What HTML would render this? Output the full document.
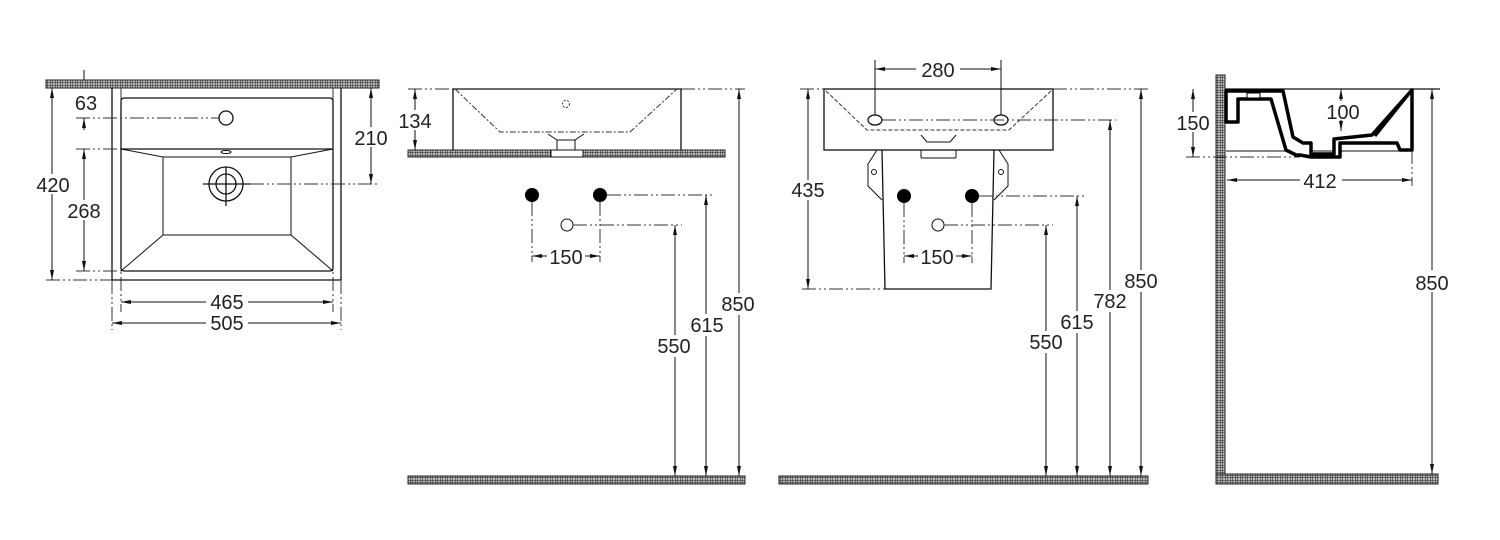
<!DOCTYPE html>
<html><head><meta charset="utf-8"><style>
html,body{margin:0;padding:0;background:#fff}
svg{display:block}
text{font-family:"Liberation Sans",sans-serif;font-size:20px;fill:#222;text-anchor:middle}
.s{stroke:#111;stroke-width:1.3;fill:none}
.t{stroke:#111;stroke-width:1;fill:none}
.c{stroke:#333;stroke-width:1;fill:none;stroke-dasharray:14 3 2 3 2 3}
.d{stroke:#111;stroke-width:1;fill:none}
.w{fill:#fff;stroke:none}
.h{fill:url(#hatch);stroke:#222;stroke-width:1}
</style></head><body>
<svg width="1500" height="540" viewBox="0 0 1500 540" xmlns="http://www.w3.org/2000/svg">
<defs>
<pattern id="hatch" width="2.5" height="2.5" patternUnits="userSpaceOnUse">
<rect width="2.5" height="2.5" fill="#bbb"/>
<path d="M0 0H2.5M0 0V2.5" stroke="#222" stroke-width="1"/>
</pattern>
<marker id="a" viewBox="0 0 10 4" refX="10" refY="2" markerWidth="10" markerHeight="4" markerUnits="userSpaceOnUse" orient="auto-start-reverse">
<path d="M0 0L10 2L0 4Z" fill="#111"/>
</marker>
</defs>

<!-- ===== VIEW 1 : top ===== -->
<rect class="h" x="46" y="80" width="333" height="8"/>
<line class="d" x1="84" y1="70" x2="84" y2="80"/>
<line class="s" x1="112" y1="88" x2="112" y2="280"/>
<line class="s" x1="341" y1="88" x2="341" y2="280"/>
<line class="s" x1="112" y1="280" x2="341" y2="280"/>
<line class="c" x1="112" y1="280" x2="112" y2="330"/>
<line class="c" x1="341" y1="280" x2="341" y2="330"/>
<line class="c" x1="121" y1="88" x2="121" y2="312"/>
<line class="c" x1="333" y1="88" x2="333" y2="312"/>
<rect class="s" x="121" y="98" width="212" height="173" rx="3"/>
<line class="s" x1="121" y1="149" x2="333" y2="149"/>
<path class="t" d="M121 149L163 157H291L333 149M163 157V235H291V157M163 235L121 271M291 235L333 271"/>
<ellipse class="t" cx="226" cy="152" rx="5" ry="1.5"/>
<circle class="s" cx="226" cy="118" r="7"/>
<circle class="s" cx="226" cy="184" r="17"/>
<circle class="s" cx="226" cy="184" r="10"/>
<line class="s" x1="226" y1="167" x2="226" y2="206"/>
<line class="s" x1="203" y1="184" x2="250" y2="184"/>
<line class="c" x1="76" y1="118" x2="220" y2="118"/>
<line class="c" x1="250" y1="184" x2="378" y2="184"/>
<line class="c" x1="76" y1="149" x2="121" y2="149"/>
<line class="c" x1="76" y1="271" x2="121" y2="271"/>
<line class="c" x1="46" y1="280" x2="112" y2="280"/>
<line class="d" x1="52" y1="88" x2="52" y2="280" marker-start="url(#a)" marker-end="url(#a)"/>
<rect class="w" x="34" y="174" width="38" height="20"/><text x="53" y="192">420</text>
<line class="d" x1="84" y1="149" x2="84" y2="271" marker-start="url(#a)" marker-end="url(#a)"/>
<rect class="w" x="64" y="200" width="40" height="20"/><text x="84" y="218">268</text>
<line class="d" x1="84" y1="118" x2="84" y2="130" marker-start="url(#a)"/>
<text x="86" y="110">63</text>
<line class="d" x1="371" y1="88" x2="371" y2="184" marker-start="url(#a)" marker-end="url(#a)"/>
<rect class="w" x="352" y="127" width="40" height="20"/><text x="371" y="145">210</text>
<line class="d" x1="121" y1="302" x2="333" y2="302" marker-start="url(#a)" marker-end="url(#a)"/>
<rect class="w" x="206" y="292" width="42" height="20"/><text x="227" y="309">465</text>
<line class="d" x1="112" y1="323" x2="341" y2="323" marker-start="url(#a)" marker-end="url(#a)"/>
<rect class="w" x="206" y="313" width="42" height="20"/><text x="227" y="330">505</text>

<!-- ===== VIEW 2 : side ===== -->
<line class="c" x1="408" y1="89" x2="453" y2="89"/>
<line class="c" x1="681" y1="89" x2="745" y2="89"/>
<path class="s" d="M453 150V89H681V150"/>
<path class="c" d="M455 89L500 132H630L677 89" style="stroke-dasharray:6 2 2 2"/>
<path class="t" d="M548 134L557 140H575L584 134M557 140V150M575 140V150"/>
<circle class="c" cx="566" cy="104" r="3.5" style="stroke-dasharray:2 1.5"/>
<rect class="h" x="408" y="150" width="143" height="7"/>
<rect class="h" x="583" y="150" width="142" height="7"/>
<rect class="t" x="551" y="150" width="32" height="7"/>
<line class="d" x1="415" y1="89" x2="415" y2="150" marker-start="url(#a)" marker-end="url(#a)"/>
<rect class="w" x="398" y="110" width="36" height="20"/><text x="415" y="128">134</text>
<circle cx="532" cy="195" r="7" fill="#000"/>
<circle cx="600" cy="195" r="7" fill="#000"/>
<circle class="t" cx="567" cy="225" r="6"/>
<line class="c" x1="607" y1="195" x2="714" y2="195"/>
<line class="c" x1="573" y1="225" x2="682" y2="225"/>
<line class="c" x1="532" y1="202" x2="532" y2="262"/>
<line class="c" x1="600" y1="202" x2="600" y2="262"/>
<line class="d" x1="532" y1="256" x2="600" y2="256" marker-start="url(#a)" marker-end="url(#a)"/>
<rect class="w" x="547" y="246" width="38" height="20"/><text x="566" y="264">150</text>
<line class="d" x1="739" y1="89" x2="739" y2="476" marker-start="url(#a)" marker-end="url(#a)"/>
<line class="d" x1="706" y1="195" x2="706" y2="476" marker-start="url(#a)" marker-end="url(#a)"/>
<line class="d" x1="675" y1="225" x2="675" y2="476" marker-start="url(#a)" marker-end="url(#a)"/>
<rect class="w" x="718" y="293" width="40" height="22"/><text x="738" y="311">850</text>
<rect class="w" x="687" y="314" width="40" height="22"/><text x="707" y="332">615</text>
<rect class="w" x="654" y="335" width="40" height="22"/><text x="674" y="353">550</text>
<rect class="h" x="408" y="476" width="337" height="8"/>

<!-- ===== VIEW 3 : front ===== -->
<line class="c" x1="800" y1="89" x2="824" y2="89"/>
<line class="c" x1="1053" y1="89" x2="1148" y2="89"/>
<rect class="s" x="824" y="89" width="229" height="61"/>
<path class="c" d="M826 91L867 130H1009L1051 91" style="stroke-dasharray:4 2"/>
<path class="t" d="M921 135L927 142H950L956 135"/>
<ellipse class="s" cx="875" cy="120" rx="7" ry="5"/>
<ellipse class="s" cx="1001" cy="120" rx="7" ry="5"/>
<line class="c" x1="882" y1="120" x2="1116" y2="120"/>
<line class="d" x1="875" y1="60" x2="875" y2="115"/>
<line class="d" x1="1001" y1="60" x2="1001" y2="115"/>
<line class="d" x1="875" y1="69" x2="1001" y2="69" marker-start="url(#a)" marker-end="url(#a)"/>
<rect class="w" x="916" y="59" width="44" height="20"/><text x="938" y="77">280</text>
<path class="t" d="M921 150V157Q921 158 922 158H955Q956 158 956 157V150"/>
<path class="s" d="M882 150L885 289H991L994 150"/>
<path class="t" d="M877 150L868 164V186L882 200M999 150L1008 164V186L994 200"/>
<circle class="t" cx="874" cy="172" r="2.5"/>
<circle class="t" cx="1001" cy="172" r="2.5"/>
<line class="c" x1="802" y1="289" x2="885" y2="289"/>
<line class="d" x1="808" y1="89" x2="808" y2="289" marker-start="url(#a)" marker-end="url(#a)"/>
<rect class="w" x="788" y="180" width="40" height="20"/><text x="808" y="197">435</text>
<circle cx="904" cy="196" r="7" fill="#000"/>
<circle cx="972" cy="196" r="7" fill="#000"/>
<circle class="t" cx="938" cy="225" r="6"/>
<line class="c" x1="979" y1="196" x2="1085" y2="196"/>
<line class="c" x1="944" y1="225" x2="1053" y2="225"/>
<line class="c" x1="904" y1="203" x2="904" y2="263"/>
<line class="c" x1="972" y1="203" x2="972" y2="263"/>
<line class="d" x1="904" y1="256" x2="972" y2="256" marker-start="url(#a)" marker-end="url(#a)"/>
<rect class="w" x="918" y="246" width="38" height="20"/><text x="937" y="264">150</text>
<line class="d" x1="1141" y1="89" x2="1141" y2="476" marker-start="url(#a)" marker-end="url(#a)"/>
<line class="d" x1="1110" y1="120" x2="1110" y2="476" marker-start="url(#a)" marker-end="url(#a)"/>
<line class="d" x1="1077" y1="196" x2="1077" y2="476" marker-start="url(#a)" marker-end="url(#a)"/>
<line class="d" x1="1046" y1="225" x2="1046" y2="476" marker-start="url(#a)" marker-end="url(#a)"/>
<rect class="w" x="1121" y="270" width="40" height="22"/><text x="1141" y="288">850</text>
<rect class="w" x="1090" y="290" width="40" height="22"/><text x="1110" y="308">782</text>
<rect class="w" x="1057" y="311" width="40" height="22"/><text x="1077" y="329">615</text>
<rect class="w" x="1026" y="331" width="40" height="22"/><text x="1046" y="349">550</text>
<rect class="h" x="779" y="476" width="369" height="8"/>

<!-- ===== VIEW 4 : section ===== -->
<rect class="h" x="1216" y="75" width="9" height="409"/>
<rect class="h" x="1216" y="474" width="222" height="10"/>
<line class="s" x1="1225" y1="89" x2="1440" y2="89"/>
<line class="c" x1="1186" y1="157" x2="1300" y2="157"/>
<line class="c" x1="1412" y1="150" x2="1412" y2="186"/>
<line class="t" x1="1226" y1="151" x2="1412" y2="151"/>
<path d="M1226 91H1283L1293 137L1303 143H1311V154H1334V139L1372 135L1412 90V150H1400L1397 143H1372L1340 143V157H1311L1300 155H1296L1286 150L1271 99H1238V122H1226Z" fill="#fff" stroke="#000" stroke-width="3.5" stroke-linejoin="round"/>
<rect x="1247" y="93" width="13" height="5" fill="#fff" stroke="#000" stroke-width="1"/>
<line x1="1375" y1="136" x2="1408" y2="95" stroke="#000" stroke-width="3"/>
<line class="d" x1="1193" y1="89" x2="1193" y2="157" marker-start="url(#a)" marker-end="url(#a)"/>
<rect class="w" x="1175" y="112" width="36" height="20"/><text x="1193" y="130">150</text>
<line class="d" x1="1341" y1="89" x2="1341" y2="101" marker-start="url(#a)"/>
<line class="d" x1="1341" y1="120" x2="1341" y2="131" marker-end="url(#a)"/>
<text x="1343" y="119">100</text>
<line class="d" x1="1227" y1="180" x2="1412" y2="180" marker-start="url(#a)" marker-end="url(#a)"/>
<rect class="w" x="1300" y="170" width="42" height="20"/><text x="1320" y="188">412</text>
<line class="d" x1="1432" y1="89" x2="1432" y2="474" marker-start="url(#a)" marker-end="url(#a)"/>
<rect class="w" x="1412" y="270" width="40" height="22"/><text x="1432" y="290">850</text>
</svg>
</body></html>
